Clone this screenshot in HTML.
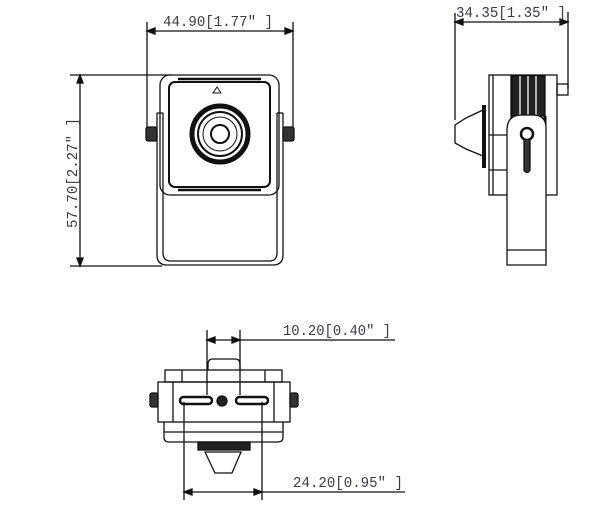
<!DOCTYPE html>
<html><head><meta charset="utf-8"><style>
html,body{margin:0;padding:0;background:#fff;}
svg{display:block}
text{font-family:"Liberation Mono","DejaVu Sans Mono",monospace;font-size:15px;fill:#3a3a4a}
</style></head><body>
<svg width="600" height="513" viewBox="0 0 600 513" xmlns="http://www.w3.org/2000/svg" fill="none" stroke="#111" stroke-width="1.3">
<!-- FRONT VIEW dims -->
<line x1="147" y1="22" x2="147" y2="132"/>
<line x1="293" y1="22" x2="293" y2="132"/>
<line x1="147" y1="31" x2="293" y2="31"/>
<path d="M147 31 l8 -3 v6z M293 31 l-8 -3 v6z" fill="#111"/>
<text x="163" y="26" stroke="none" textLength="110" lengthAdjust="spacingAndGlyphs">44.90[1.77″ ]</text>
<line x1="70" y1="75" x2="172" y2="75"/>
<line x1="70" y1="266" x2="162" y2="266"/>
<line x1="80" y1="75" x2="80" y2="266"/>
<path d="M80 75 l-3 8 h6z M80 266 l-3 -8 h6z" fill="#111"/>
<text x="0" y="0" stroke="none" transform="translate(77,228) rotate(-90)" textLength="110" lengthAdjust="spacingAndGlyphs">57.70[2.27″ ]</text>
<!-- housing -->
<rect x="160" y="75" width="119" height="120" rx="10"/>
<rect x="169" y="82" width="101" height="105" rx="6" stroke-width="2"/>
<line x1="178" y1="79" x2="261" y2="79" stroke-width="2.5"/>
<line x1="178" y1="190" x2="261" y2="190" stroke-width="2.5"/>
<path d="M213 93 l4 -6 l4 6z" stroke-width="1"/>
<circle cx="220" cy="134" r="28" stroke-width="5"/>
<circle cx="220" cy="134" r="22" stroke-width="2"/>
<circle cx="220" cy="134" r="17" stroke-width="1"/>
<circle cx="220" cy="134" r="9" stroke-width="2"/>
<!-- bracket -->
<path d="M157 113 V255 q0 10 10 10 H273 q10 0 10 -10 V113"/>
<path d="M163 113 V253 q0 8 8 8 H269 q8 0 8 -8 V113"/>
<line x1="157" y1="113" x2="163" y2="113"/><line x1="277" y1="113" x2="283" y2="113"/>
<rect x="146" y="127" width="11" height="14" rx="2" fill="#333"/>
<rect x="283" y="127" width="11" height="14" rx="2" fill="#333"/>
<!-- SIDE VIEW -->
<line x1="455" y1="13" x2="455" y2="120"/>
<line x1="568" y1="12" x2="568" y2="88"/>
<line x1="455" y1="22" x2="568" y2="22"/>
<path d="M455 22 l8 -3 v6z M568 22 l-8 -3 v6z" fill="#111"/>
<text x="456" y="17" stroke="none" textLength="110" lengthAdjust="spacingAndGlyphs">34.35[1.35″ ]</text>
<rect x="489" y="75" width="68" height="120"/>
<line x1="493" y1="75" x2="493" y2="195"/>
<line x1="511" y1="75" x2="511" y2="195"/>
<rect x="512" y="76" width="33" height="40" fill="#222"/>
<line x1="520" y1="76" x2="520" y2="116" stroke="#fff"/><line x1="528" y1="76" x2="528" y2="116" stroke="#fff"/><line x1="536" y1="76" x2="536" y2="116" stroke="#fff"/>
<line x1="545" y1="116" x2="545" y2="195" stroke-width="3"/>
<line x1="484" y1="105" x2="484" y2="168" stroke-width="4"/>
<path d="M483 110 L466 118 L455 125 V143 L466 149 L483 156"/>
<rect x="557" y="84" width="11" height="11"/>
<path d="M507 265 V130 q0 -15 15 -15 H533 q13 0 13 13 V265 Z" fill="#fff"/>
<line x1="507" y1="250" x2="546" y2="250"/>
<circle cx="527" cy="134" r="6" stroke-width="2.5"/>
<path d="M524 140 V170 q3 5 6 0 V140" fill="#333"/>
<line x1="489" y1="135" x2="507" y2="135"/><line x1="489" y1="170" x2="507" y2="170"/>
<!-- BOTTOM VIEW -->
<line x1="207" y1="330" x2="207" y2="395"/>
<line x1="240" y1="330" x2="240" y2="395"/>
<line x1="207" y1="340" x2="395" y2="340"/>
<path d="M207 340 l8 -3 v6z M240 340 l-8 -3 v6z" fill="#111"/>
<text x="283" y="335" stroke="none" textLength="108" lengthAdjust="spacingAndGlyphs">10.20[0.40″ ]</text>
<path d="M208 370 V364 q0 -5 5 -5 H235 q5 0 5 5 V370"/>
<rect x="165" y="370" width="117" height="12"/>
<line x1="182" y1="370" x2="182" y2="382"/><line x1="265" y1="370" x2="265" y2="382"/>
<rect x="158" y="382" width="132" height="40"/>
<line x1="173" y1="382" x2="173" y2="422"/><line x1="274" y1="382" x2="274" y2="422"/>
<path d="M164 422 V437 q0 5 5 5 H278 q5 0 5 -5 V422"/>
<line x1="164" y1="432" x2="283" y2="432"/>
<rect x="180" y="397" width="32" height="7" rx="3.5" stroke-width="2.5"/>
<rect x="236" y="397" width="32" height="7" rx="3.5" stroke-width="2.5"/>
<circle cx="222" cy="401" r="5" fill="#222"/>
<rect x="150" y="393" width="8" height="14" rx="2" fill="#333"/>
<rect x="290" y="393" width="8" height="14" rx="2" fill="#333"/>
<rect x="198" y="442" width="52" height="8" fill="#222"/>
<path d="M205 452 L215 473 H232 L241 452 Z"/>
<line x1="184" y1="402" x2="184" y2="500"/>
<line x1="262" y1="402" x2="262" y2="500"/>
<line x1="184" y1="492" x2="405" y2="492"/>
<path d="M184 492 l8 -3 v6z M262 492 l-8 -3 v6z" fill="#111"/>
<text x="293" y="487" stroke="none" textLength="110" lengthAdjust="spacingAndGlyphs">24.20[0.95″ ]</text>
</svg>
</body></html>
